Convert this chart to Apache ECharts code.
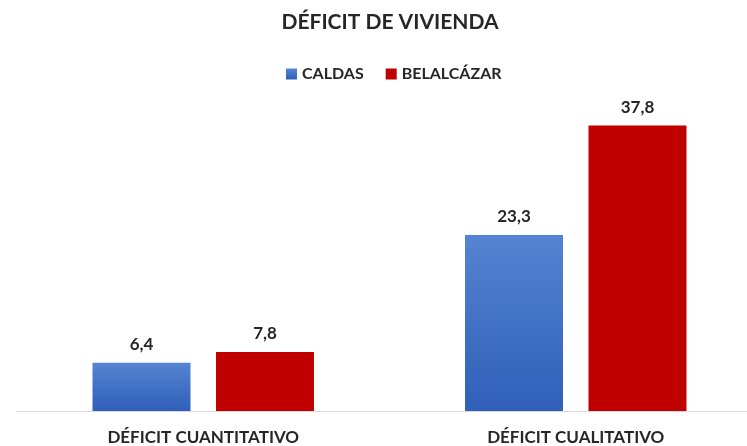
<!DOCTYPE html>
<html>
<head>
<meta charset="utf-8">
<script src="https://cdn.jsdelivr.net/npm/echarts@6/dist/echarts.min.js"></script>
<style>
html, body { margin: 0; padding: 0; background: #fff; }
#chart { width: 747px; height: 446px; }
</style>
</head>
<body>
<div id="chart"></div>
<script>
const categories = ['DÉFICIT CUANTITATIVO', 'DÉFICIT CUALITATIVO']
const caldas = [6.4, 23.3]
const belalcazar = [7.8, 37.8]

const font = 'Lato'
const fmt = p => String(p.value).replace('.', ',')

let chart = echarts.init(document.getElementById('chart'))

let label = {
    show: true,
    position: 'top',
    distance: 10,
    formatter: fmt,
    fontFamily: font,
    fontWeight: 'bold',
    fontSize: 17,
    color: '#262626'
}

chart.setOption({
    animation: false,
    title: {
        text: 'DÉFICIT DE VIVIENDA',
        left: 385,
        textAlign: 'center',
        top: 7,
        textStyle: { fontFamily: font, fontWeight: 'bold', fontSize: 21, color: '#262626' }
    },
    legend: {
        top: 61,
        left: 281,
        itemWidth: 11,
        itemHeight: 11,
        itemGap: 22,
        icon: 'rect',
        textStyle: { fontFamily: font, fontWeight: 'bold', fontSize: 16, color: '#262626' }
    },
    grid: { left: 17, width: 745, top: 109, bottom: 35, outerBoundsMode: 'none', containLabel: false },
    xAxis: {
        type: 'category',
        data: categories,
        axisLine: { lineStyle: { color: '#d9d9d9' } },
        axisTick: { show: false },
        axisLabel: { margin: 18, fontFamily: font, fontWeight: 'bold', fontSize: 17, color: '#262626' }
    },
    yAxis: {
        type: 'value',
        min: 0,
        max: 40,
        show: false,
        splitLine: { show: false }
    },
    series: [
        {
            name: 'CALDAS',
            type: 'bar',
            data: caldas,
            barWidth: 98,
            barGap: '26%',
            itemStyle: {
                color: new echarts.graphic.LinearGradient(0, 0, 0, 1, [
                    { offset: 0, color: '#5584d2' },
                    { offset: 1, color: '#2f5fb8' }
                ])
            },
            label: label
        },
        {
            name: 'BELALCÁZAR',
            type: 'bar',
            data: belalcazar,
            barWidth: 98,
            itemStyle: { color: '#c00000' },
            label: label
        }
    ]
})
</script>
</body>
</html>
